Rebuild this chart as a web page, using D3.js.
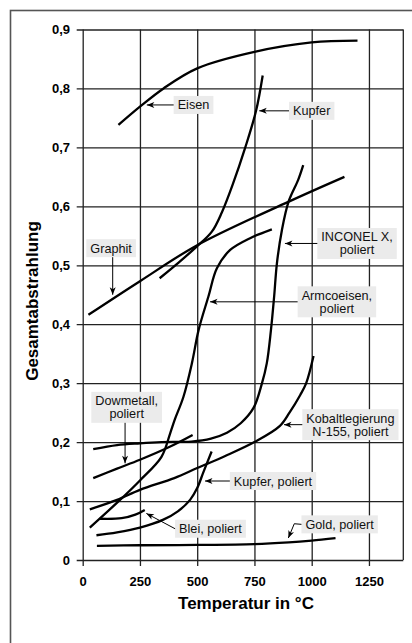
<!DOCTYPE html>
<html>
<head>
<meta charset="utf-8">
<script src="https://cdn.jsdelivr.net/npm/d3@7"></script>
<style>
  body { margin: 0; background: #fff; }
  svg { display: block; font-family: "Liberation Sans", Arial, Helvetica, sans-serif; }
</style>
</head>
<body>
<svg id="chart"></svg>
<script>
var width = 412;
var height = 643;

// Temperatur (°C) / Gesamtabstrahlung
var eisen = [[156, 0.738], [250, 0.769], [353, 0.800], [500, 0.834], [750, 0.862], [1000, 0.878], [1200, 0.881]];
var kupfer = [[336, 0.478], [420, 0.505], [499, 0.532], [564, 0.557], [608, 0.590], [656, 0.638], [710, 0.700], [757, 0.762], [786, 0.822]];
var graphit = [[25, 0.416], [250, 0.473], [500, 0.534], [900, 0.608], [1143, 0.650]];
var inconel = [[46, 0.188], [150, 0.195], [250, 0.198], [344, 0.200], [475, 0.201], [560, 0.206], [630, 0.216], [690, 0.232],
  [746, 0.258], [783, 0.300], [804, 0.334], [822, 0.390], [836, 0.447], [848, 0.503], [870, 0.560], [899, 0.608], [941, 0.645], [963, 0.670]];
var armco = [[31, 0.055], [155, 0.099], [250, 0.135], [344, 0.175], [382, 0.215], [402, 0.238], [440, 0.277], [477, 0.334],
  [506, 0.390], [549, 0.447], [586, 0.495], [644, 0.526], [731, 0.546], [826, 0.561]];
var dowmetall = [[46, 0.139], [150, 0.155], [250, 0.170], [380, 0.192], [480, 0.212]];
var kobalt = [[31, 0.086], [150, 0.102], [250, 0.119], [400, 0.139], [500, 0.156], [620, 0.176], [750, 0.200], [860, 0.227],
  [903, 0.250], [950, 0.280], [976, 0.300], [1008, 0.346]];
var kupferPoliert = [[60, 0.042], [150, 0.047], [250, 0.055], [350, 0.068], [417, 0.083], [469, 0.102], [500, 0.122], [528, 0.150], [563, 0.184]];
var blei = [[75, 0.070], [170, 0.071], [230, 0.077], [271, 0.085]];
var gold = [[62, 0.024], [250, 0.025], [500, 0.0255], [750, 0.027], [900, 0.030], [1000, 0.033], [1104, 0.037]];

var series = [eisen, kupfer, graphit, inconel, armco, dowmetall, kobalt, kupferPoliert, blei, gold];

var xTicks = [0, 250, 500, 750, 1000, 1250];
var yTicks = [0, 0.1, 0.2, 0.3, 0.4, 0.5, 0.6, 0.7, 0.8, 0.9];

// labels: box centre and arrow tip in data units
var labels = [
  { lines: ["Eisen"], at: [484, 0.772], tip: [280, 0.772], from: "left" },
  { lines: ["Kupfer"], at: [1000, 0.762], tip: [771, 0.762], from: "left" },
  { lines: ["Graphit"], at: [124, 0.529], tip: [131, 0.450], from: "bottom" },
  { lines: ["INCONEL X,", "poliert"], at: [1198, 0.537], tip: [883, 0.537], from: "left" },
  { lines: ["Armcoeisen,", "poliert"], at: [1110, 0.438], tip: [556, 0.438], from: "left" },
  { lines: ["Dowmetall,", "poliert"], at: [192, 0.259], tip: [185, 0.164], from: "bottom" },
  { lines: ["Kobaltlegierung", "N-155, poliert"], at: [1169, 0.2296], tip: [879, 0.2296], from: "left" },
  { lines: ["Kupfer, poliert"], at: [831, 0.134], tip: [534, 0.134], from: "left" },
  { lines: ["Blei, poliert"], at: [558, 0.053], tip: [278, 0.079], from: "left" },
  { lines: ["Gold, poliert"], at: [1122, 0.0605], via: [924, 0.0615], tip: [898, 0.0373], from: "left" }
];

var svg = d3.select("#chart")
    .attr("width", width)
    .attr("height", height);

svg.append("rect").attr("width", width).attr("height", height).attr("fill", "#fff");

// outer frame (runs off the right and bottom edge)
svg.append("rect")
  .attr("x", 10.5).attr("y", 10.5)
  .attr("width", 420).attr("height", 660)
  .attr("fill", "none")
  .attr("stroke", "#555")
  .attr("stroke-width", 1.6);

var x = d3.scaleLinear().domain([0, 1400]).range([82.7, 403.3]);
var y = d3.scaleLinear().domain([0, 0.9]).range([560, 29.5]);

var defs = svg.append("defs");
defs.append("marker")
  .attr("id", "arr")
  .attr("viewBox", "-8 -4 9 8")
  .attr("refX", 0).attr("refY", 0)
  .attr("markerWidth", 9).attr("markerHeight", 8)
  .attr("markerUnits", "userSpaceOnUse")
  .attr("orient", "auto")
  .append("path")
  .attr("d", "M0,0 L-7.5,-3 L-5.5,0 L-7.5,3 Z")
  .attr("fill", "#000");

var gridColor = "#222";

// vertical grid + x axis
var xAxis = svg.append("g")
  .attr("transform", "translate(0," + y(0) + ")")
  .call(d3.axisBottom(x).tickValues(xTicks).tickSize(-(y(0) - y(0.9))).tickPadding(0).tickFormat(d3.format("d")));
xAxis.select(".domain").remove();
xAxis.selectAll("line").attr("y1", 6).attr("stroke", gridColor).attr("stroke-width", 1.3);
xAxis.selectAll("text")
  .attr("y", 25.5).attr("dy", null)
  .attr("font-size", 13).attr("font-weight", "bold").attr("fill", "#000")
  .attr("font-family", null);

// horizontal grid + y axis
var yAxis = svg.append("g")
  .attr("transform", "translate(" + x(0) + ",0)")
  .call(d3.axisLeft(y).tickValues(yTicks).tickSize(-(x(1400) - x(0))).tickPadding(12.7)
    .tickFormat(function(d) { return d === 0 ? "0" : d3.format(".1f")(d).replace(".", ","); }));
yAxis.select(".domain").remove();
yAxis.selectAll("line").attr("x1", -6).attr("stroke", gridColor).attr("stroke-width", 1.3);
yAxis.selectAll("text")
  .attr("font-size", 13).attr("font-weight", "bold").attr("fill", "#000")
  .attr("font-family", null);

// right border
svg.append("line")
  .attr("x1", x(1400)).attr("x2", x(1400))
  .attr("y1", y(0.9)).attr("y2", y(0))
  .attr("stroke", gridColor).attr("stroke-width", 1.3);

// curves
var line = d3.line()
  .x(function(d) { return x(d[0]); })
  .y(function(d) { return y(d[1]); })
  .curve(d3.curveCatmullRom.alpha(0.5));

svg.append("g").selectAll("path")
  .data(series)
  .enter().append("path")
  .attr("d", line)
  .attr("fill", "none")
  .attr("stroke", "#000")
  .attr("stroke-width", 2.3)
  .attr("stroke-linecap", "butt");

// labels with leader arrows
var lineH = 13;
labels.forEach(function(lb) {
  var cx = x(lb.at[0]), cy = y(lb.at[1]);
  var g = svg.append("g");
  var box = g.append("rect").attr("fill", "#ebebeb");
  var n = lb.lines.length;
  var t = g.append("text")
    .attr("text-anchor", "middle")
    .attr("font-size", 12.7)
    .attr("fill", "#111");
  lb.lines.forEach(function(s, i) {
    t.append("tspan")
      .attr("x", cx)
      .attr("y", cy + 4.5 + (i - (n - 1) / 2) * lineH)
      .text(s);
  });
  var w = d3.max(t.selectAll("tspan").nodes(), function(nd) { return nd.getComputedTextLength(); });
  var bw = w + 8, bh = n * lineH + 5;
  box.attr("x", cx - bw / 2).attr("y", cy - bh / 2).attr("width", bw).attr("height", bh);

  var start;
  if (lb.from === "bottom") start = [x(lb.tip[0]), cy + bh / 2];
  else start = [cx - bw / 2, cy];
  var pts = [start];
  if (lb.via) pts.push([x(lb.via[0]), y(lb.via[1])]);
  pts.push([x(lb.tip[0]), y(lb.tip[1])]);
  svg.append("path")
    .attr("d", d3.line()(pts))
    .attr("fill", "none")
    .attr("stroke", "#000")
    .attr("stroke-width", 1)
    .attr("marker-end", "url(#arr)");
});

// axis titles
svg.append("text")
  .attr("x", 246).attr("y", 609)
  .attr("text-anchor", "middle")
  .attr("font-size", 17).attr("font-weight", "bold")
  .text("Temperatur in °C");

svg.append("text")
  .attr("transform", "translate(38,301) rotate(-90)")
  .attr("text-anchor", "middle")
  .attr("font-size", 17).attr("font-weight", "bold")
  .text("Gesamtabstrahlung");
</script>
</body>
</html>
